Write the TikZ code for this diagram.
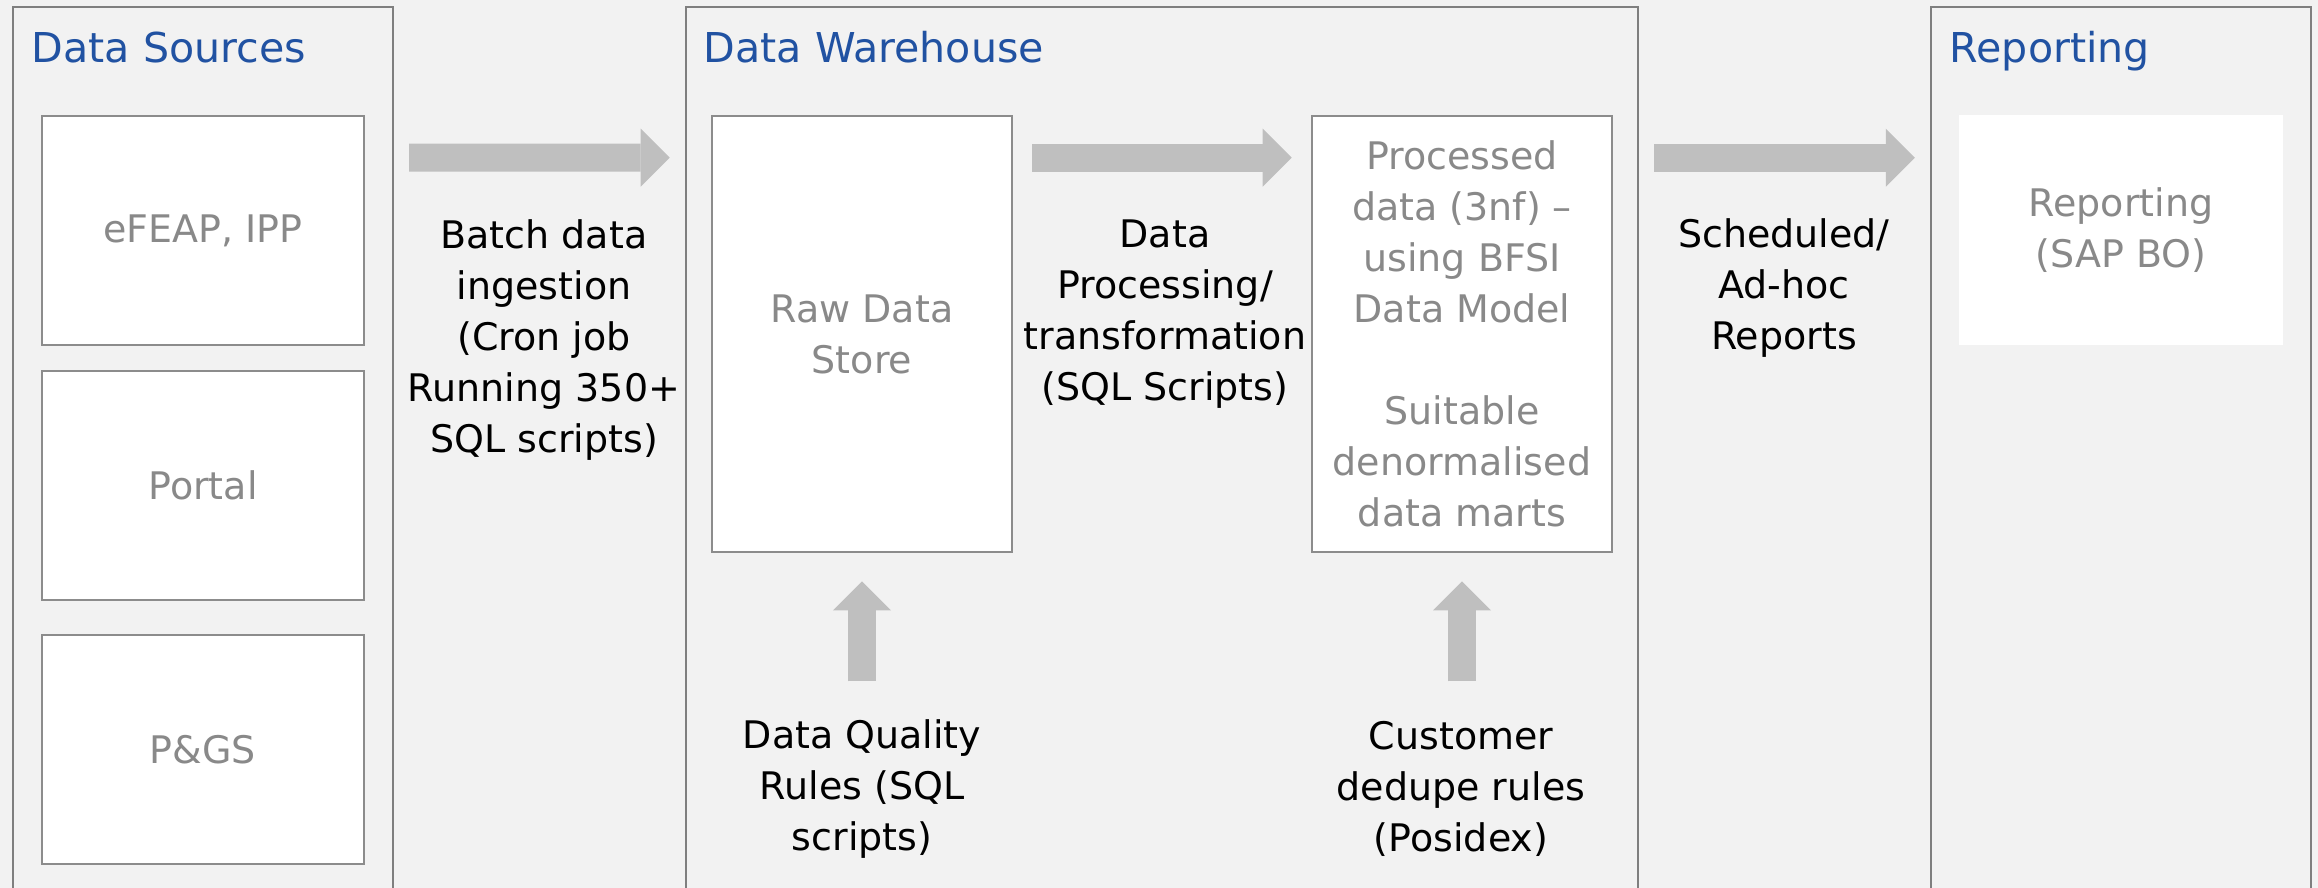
\documentclass[tikz,border=0pt]{standalone}
\usepackage{fontspec}
\setmainfont{DejaVu Sans}
\usetikzlibrary{calc,arrows.meta}

\definecolor{bgcol}{HTML}{F2F2F2}
\definecolor{panelline}{HTML}{7F7F7F}
\definecolor{boxline}{HTML}{8C8C8C}
\definecolor{boxtext}{HTML}{898989}
\definecolor{arrowgrey}{HTML}{BFBFBF}
\definecolor{titleblue}{HTML}{2152A2}
\newcommand{\bodyfont}{\fontsize{10.8pt}{14.5pt}\selectfont}
\newcommand{\titlefont}{\fontsize{11.7pt}{14pt}\selectfont}

\begin{document}
\begin{tikzpicture}[x=0.01cm,y=-0.01cm,line width=0.5pt,
	panel/.style={draw=panelline,line width=0.6pt,minimum height=8.93cm,inner sep=0pt},
	srcbox/.style={draw=boxline,line width=0.7pt,fill=white,text=boxtext,inner sep=0pt,align=center,font=\bodyfont},
	lbl/.style={align=center,inner sep=0pt,font=\bodyfont},
	title/.style={anchor=base west,inner sep=0pt,text=titleblue,font=\titlefont},
	flow/.style={line width=0.28cm,color=arrowgrey,-{Triangle[length=0.29cm,width=0.58cm,line width=0pt]}}]

\clip (0,0) rectangle (2318,888);
\fill[bgcol] (0,0) rectangle (2318,888);

% panels
\node[panel,minimum width=3.8cm] (src) at (203,453.5) {};
\node[panel,minimum width=9.52cm] (dwh) at (1162,453.5) {};
\node[panel,minimum width=3.8cm] (rep) at (2121,453.5) {};
\node[title] (srct) at (31,63) {Data Sources};
\node[title] (dwht) at (703,63) {Data Warehouse};
\node[title] (rept) at (1949,63) {Reporting};

% sources
\foreach \n/\y/\t in {efeap/230.5/{eFEAP, IPP},portal/485.5/Portal,pgs/749.5/P\&GS}{
	\node[srcbox,minimum width=3.22cm,minimum height=2.29cm] (\n) at (203,\y) {\t};
}

% warehouse
\node[srcbox,minimum width=3cm,minimum height=4.36cm] (raw) at (862,334) {Raw Data\\Store};
\node[srcbox,minimum width=3cm,minimum height=4.36cm] (proc) at (1462,334)
	{Processed\\data (3nf) –\\using BFSI\\Data Model\\[14.5pt]Suitable\\denormalised\\data marts};

% reporting
\node[srcbox,draw=none,minimum width=3.24cm,minimum height=2.3cm] (repbox) at (2121,230) {Reporting\\(SAP BO)};

% flows
\draw[flow] ($(src.north east)+(15,152)$) -- ($(raw.north west)+(-41,43)$);
\draw[flow] ($(raw.north east)+(19,43)$) -- ($(proc.north west)+(-19,43)$);
\draw[flow] ($(dwh.north east)+(15,152)$) -- ($(rep.north west)+(-15,152)$);
\draw[flow] ($(raw.south)+(0,128)$) -- ($(raw.south)+(0,28)$);
\draw[flow] ($(proc.south)+(0,128)$) -- ($(proc.south)+(0,28)$);

% labels
\node[lbl] (ingl) at (544,340) {Batch data\\ingestion\\(Cron job\\Running 350+\\SQL scripts)};
\node[lbl] (prcl) at (1165,314) {Data\\Processing/\\transformation\\(SQL Scripts)};
\node[lbl] (schl) at (1784,288) {Scheduled/\\Ad-hoc\\Reports};
\node[lbl] (dql) at (862,789) {Data Quality\\Rules (SQL\\scripts)};
\node[lbl] (ddl) at (1461,789) {Customer\\dedupe rules\\(Posidex)};

\end{tikzpicture}
\end{document}
